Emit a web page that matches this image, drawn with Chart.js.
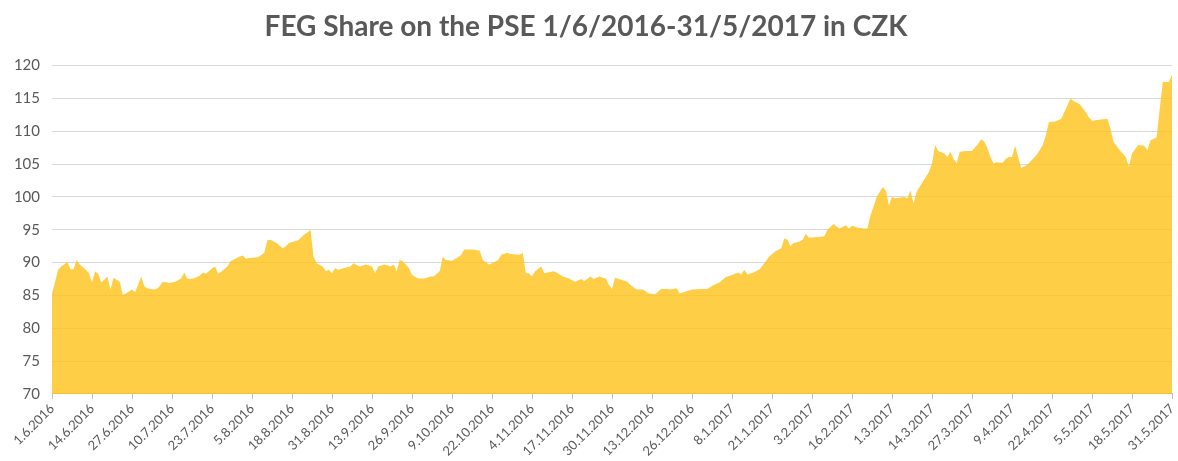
<!DOCTYPE html>
<html>
<head>
<meta charset="utf-8">
<script src="https://cdn.jsdelivr.net/npm/chart.js@4"></script>
<style>
  body { margin: 0; background: #fff; }
  #wrap { width: 1178px; height: 461px; position: relative; }
</style>
</head>
<body>
<div id="wrap"><canvas id="shareChart"></canvas></div>
<script>
// days counted from 1.6.2016
const dayOffsets = [
  0, 1, 2, 3, 5, 6, 7, 8, 9, 11,
  12, 13, 14, 15, 16, 17, 18, 19, 20, 22,
  23, 24, 25, 26, 27, 29, 30, 31, 33, 34,
  35, 36, 38, 40, 42, 43, 44, 46, 48, 49,
  50, 52, 53, 54, 55, 57, 58, 60, 62, 63,
  64, 67, 69, 70, 71, 73, 75, 76, 77, 80,
  82, 83, 84, 85, 86, 88, 89, 90, 91, 92,
  93, 95, 97, 98, 100, 102, 104, 105, 106, 108,
  110, 111, 112, 113, 114, 116, 117, 119, 121, 123,
  124, 126, 127, 128, 130, 132, 133, 134, 137, 139,
  140, 142, 143, 145, 146, 148, 149, 152, 153, 154,
  155, 156, 157, 159, 160, 161, 163, 164, 166, 168,
  170, 172, 173, 175, 176, 178, 179, 180, 181, 182,
  183, 185, 187, 188, 190, 192, 194, 196, 198, 200,
  201, 203, 204, 206, 208, 211, 213, 215, 217, 219,
  221, 223, 224, 225, 226, 228, 230, 232, 233, 235,
  237, 238, 239, 240, 241, 243, 244, 245, 246, 249,
  251, 252, 254, 255, 256, 258, 259, 260, 262, 264,
  265, 266, 267, 268, 270, 271, 272, 273, 274, 277,
  278, 279, 280, 281, 283, 285, 286, 287, 288, 290,
  291, 292, 293, 294, 295, 297, 299, 301, 302, 303,
  304, 305, 306, 307, 309, 310, 311, 312, 313, 314,
  315, 317, 319, 320, 322, 323, 324, 326, 328, 329,
  331, 332, 334, 336, 337, 338, 341, 343, 344, 345,
  347, 349, 350, 351, 353, 355, 356, 357, 359, 360,
  361, 363, 364
];

// share price in CZK
const sharePrices = [
  85.3, 87.1, 88.9, 89.4, 90.1, 89.0, 89.0, 90.4, 89.7, 88.9,
  88.4, 87.0, 88.7, 88.3, 87.0, 87.4, 87.9, 85.9, 87.7, 87.1,
  85.1, 85.3, 85.6, 85.9, 85.5, 87.9, 86.4, 86.1, 85.9, 86.0,
  86.4, 87.1, 86.9, 87.1, 87.6, 88.5, 87.5, 87.6, 88.0, 88.5,
  88.3, 89.1, 89.4, 88.3, 88.6, 89.4, 90.2, 90.7, 91.1, 90.6,
  90.7, 90.8, 91.5, 93.4, 93.5, 93.0, 92.2, 92.5, 93.0, 93.4,
  94.3, 94.6, 95.0, 90.9, 89.9, 89.4, 88.7, 88.9, 88.4, 89.2,
  88.9, 89.2, 89.4, 89.9, 89.4, 89.7, 89.4, 88.4, 89.4, 89.7,
  89.4, 89.7, 88.7, 90.4, 90.2, 89.2, 88.1, 87.6, 87.6, 87.9,
  87.9, 88.7, 90.9, 90.4, 90.3, 90.8, 91.2, 92.0, 92.0, 91.8,
  90.4, 89.7, 89.9, 90.4, 91.2, 91.5, 91.3, 91.2, 91.5, 88.4,
  88.4, 87.9, 88.7, 89.4, 88.4, 88.5, 88.7, 88.5, 87.9, 87.6,
  87.1, 87.5, 87.2, 87.9, 87.5, 87.9, 87.7, 87.6, 86.6, 86.0,
  87.7, 87.4, 87.1, 86.6, 85.9, 85.9, 85.3, 85.2, 86.0, 86.0,
  85.9, 86.1, 85.3, 85.6, 85.9, 86.0, 86.0, 86.6, 87.0, 87.8,
  88.1, 88.5, 88.2, 88.9, 88.2, 88.5, 89.0, 90.2, 90.9, 91.7,
  92.2, 93.7, 93.5, 92.5, 93.0, 93.2, 93.5, 94.4, 93.8, 93.9,
  94.0, 95.0, 95.9, 95.5, 95.2, 95.7, 95.2, 95.6, 95.3, 95.2,
  95.2, 97.2, 98.5, 100.0, 101.5, 101.0, 98.7, 100.0, 99.8, 100.0,
  99.8, 101.0, 99.0, 100.8, 102.3, 103.8, 105.1, 107.9, 107.0, 106.6,
  106.1, 106.9, 105.8, 105.1, 106.9, 107.0, 107.0, 108.1, 108.8, 108.4,
  107.4, 106.1, 105.1, 105.3, 105.2, 105.8, 106.1, 106.1, 107.8, 106.1,
  104.4, 104.9, 105.9, 106.4, 107.9, 109.4, 111.4, 111.5, 111.9, 112.9,
  115.0, 114.6, 114.1, 112.9, 112.1, 111.6, 111.8, 111.9, 110.4, 108.4,
  107.1, 106.1, 104.6, 106.6, 107.9, 107.8, 107.1, 108.6, 109.1, 113.4,
  117.5, 117.5, 118.6
];

// one label every 13 days
const tickLabels = [
  '1.6.2016', '14.6.2016', '27.6.2016', '10.7.2016', '23.7.2016', '5.8.2016',
  '18.8.2016', '31.8.2016', '13.9.2016', '26.9.2016', '9.10.2016', '22.10.2016',
  '4.11.2016', '17.11.2016', '30.11.2016', '13.12.2016', '26.12.2016', '8.1.2017',
  '21.1.2017', '3.2.2017', '16.2.2017', '1.3.2017', '14.3.2017', '27.3.2017',
  '9.4.2017', '22.4.2017', '5.5.2017', '18.5.2017', '31.5.2017'
];
const tickStep = 13;

const chartTitle = 'FEG Share on the PSE 1/6/2016-31/5/2017 in CZK';

document.addEventListener('DOMContentLoaded', function() {
  const ctx = document.getElementById('shareChart').getContext('2d');
  const points = dayOffsets.map((d, i) => ({ x: d, y: sharePrices[i] }));

  new Chart(ctx, {
    type: 'line',
    data: {
      datasets: [{
        label: 'FEG',
        data: points,
        fill: 'start',
        backgroundColor: 'rgba(254, 194, 24, 0.8)',
        borderWidth: 0,
        pointRadius: 0,
        tension: 0
      }]
    },
    options: {
      responsive: true,
      maintainAspectRatio: false,
      animation: false,
      layout: { padding: { left: 0, right: 6, top: 0, bottom: 0 } },
      plugins: {
        legend: { display: false },
        tooltip: { enabled: false },
        title: {
          display: true,
          text: chartTitle,
          color: '#595959',
          font: { family: 'Lato', size: 28, weight: 'bold' },
          padding: { top: 10, bottom: 22 }
        }
      },
      scales: {
        x: {
          type: 'linear',
          min: 0,
          max: 364,
          border: { display: true, color: '#bfbfbf' },
          grid: { drawOnChartArea: false, drawTicks: true, tickLength: 5, color: '#bfbfbf' },
          ticks: {
            stepSize: tickStep,
            autoSkip: false,
            maxRotation: 45,
            minRotation: 45,
            padding: 2,
            color: '#595959',
            font: { family: 'Lato', size: 13 },
            callback: value => tickLabels[value / tickStep]
          },
          afterFit: scale => { scale.paddingRight = 0; }
        },
        y: {
          min: 70,
          max: 120,
          border: { display: false },
          grid: { color: '#d9d9d9', drawTicks: false },
          ticks: {
            stepSize: 5,
            padding: 12,
            color: '#595959',
            font: { family: 'Lato', size: 15 }
          },
          afterFit: scale => { scale.width = 52; }
        }
      }
    }
  });
});
</script>
</body>
</html>
